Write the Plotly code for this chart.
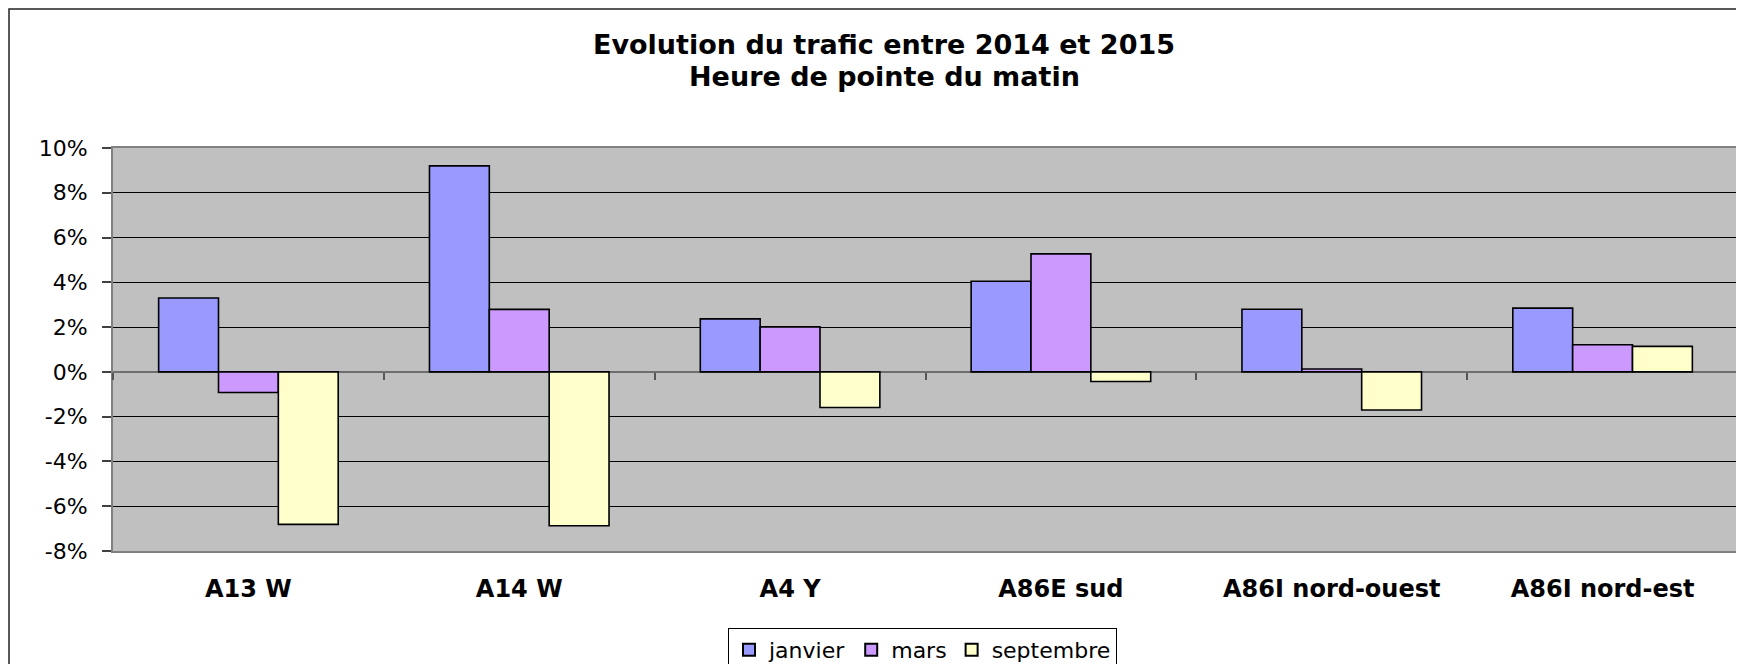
import plotly.graph_objects as go

categories = ["A13 W", "A14 W", "A4 Y", "A86E sud", "A86I nord-ouest", "A86I nord-est"]
janvier = [3.30, 9.20, 2.37, 4.05, 2.80, 2.85]
mars = [-0.92, 2.79, 2.01, 5.27, 0.13, 1.21]
septembre = [-6.81, -6.87, -1.59, -0.43, -1.70, 1.14]
series_names = ["janvier", "mars", "septembre"]
series_colors = ["#9999FF", "#CC99FF", "#FFFFCC"]
y_ticks = [-8, -6, -4, -2, 0, 2, 4, 6, 8, 10]
y_ticktext = [f"{v}%" for v in y_ticks]
title_lines = ["Evolution du trafic entre 2014 et 2015", "Heure de pointe du matin"]

# page has an 8px body margin; figure coordinates = page coordinates - 8
W, H = 1736, 656
L, R, T, B = 105, 6, 140, 113
pw, ph = W - L - R, H - T - B
ymin, ymax = y_ticks[0], y_ticks[-1]
OFF = 8

def py(page_y):
    return (T + ph - (page_y - OFF)) / ph

def px(page_x):
    return ((page_x - OFF) - L) / pw

FONT = "DejaVu Sans"

fig = go.Figure()
for name, vals, col in zip(series_names, [janvier, mars, septembre], series_colors):
    fig.add_trace(go.Bar(
        x=categories, y=vals, name=name,
        marker=dict(color=col, line=dict(color="black", width=1.6)),
    ))

n = len(categories)
fig.update_layout(
    width=W, height=H,
    margin=dict(l=L, r=R, t=T, b=B, autoexpand=False),
    paper_bgcolor="white",
    plot_bgcolor="#C0C0C0",
    barmode="group", bargap=0.337, bargroupgap=0,
    font=dict(family=FONT, color="black"),
    xaxis=dict(
        type="category", showgrid=False, ticks="",
        showline=True, linecolor="#808080", linewidth=2, mirror=True,
        tickfont=dict(family=FONT, size=24, weight="bold"),
        ticklabelstandoff=15,
    ),
    xaxis2=dict(
        overlaying="x", anchor="free", position=(0 - ymin) / (ymax - ymin),
        range=[-0.5, n - 0.5], showgrid=False, showline=False, zeroline=False,
        tickmode="array", tickvals=[i - 0.5 for i in range(n + 1)],
        ticks="outside", ticklen=7, tickcolor="#555555", tickwidth=1.5,
        showticklabels=False, side="bottom",
    ),
    yaxis=dict(
        range=[ymin, ymax], tickmode="array", tickvals=y_ticks, ticktext=y_ticktext,
        showgrid=True, gridcolor="black", gridwidth=1.2,
        zeroline=True, zerolinecolor="#6e6e6e", zerolinewidth=2,
        showline=True, linecolor="#808080", linewidth=2, mirror=True,
        ticks="outside", ticklen=9, tickcolor="#404040", tickwidth=1.5,
        tickfont=dict(family=FONT, size=22),
        ticklabelstandoff=10,
    ),
    showlegend=True,
    legend=dict(
        orientation="h", x=px(728), xanchor="left",
        y=py(628), yanchor="top",
        bgcolor="white", bordercolor="black", borderwidth=1,
        font=dict(family=FONT, size=22),
        itemsizing="constant",
    ),
)

# invisible helper trace so the zero-line tick axis renders
fig.add_trace(go.Scatter(x=[0], y=[0], xaxis="x2", mode="markers",
                         marker=dict(opacity=0), showlegend=False, hoverinfo="skip"))

for line, ypage in zip(title_lines, [45, 76]):
    fig.add_annotation(
        text=f"<b>{line}</b>", xref="paper", yref="paper",
        x=px(884), y=py(ypage), xanchor="center", yanchor="middle",
        showarrow=False, font=dict(family=FONT, size=27, color="black"),
    )

# outer chart frame
fig.add_shape(
    type="rect", xref="paper", yref="paper",
    x0=px(9), x1=px(1800), y0=py(9), y1=py(760),
    line=dict(color="#222222", width=1.5), layer="below",
)

fig.write_html("out.html")
